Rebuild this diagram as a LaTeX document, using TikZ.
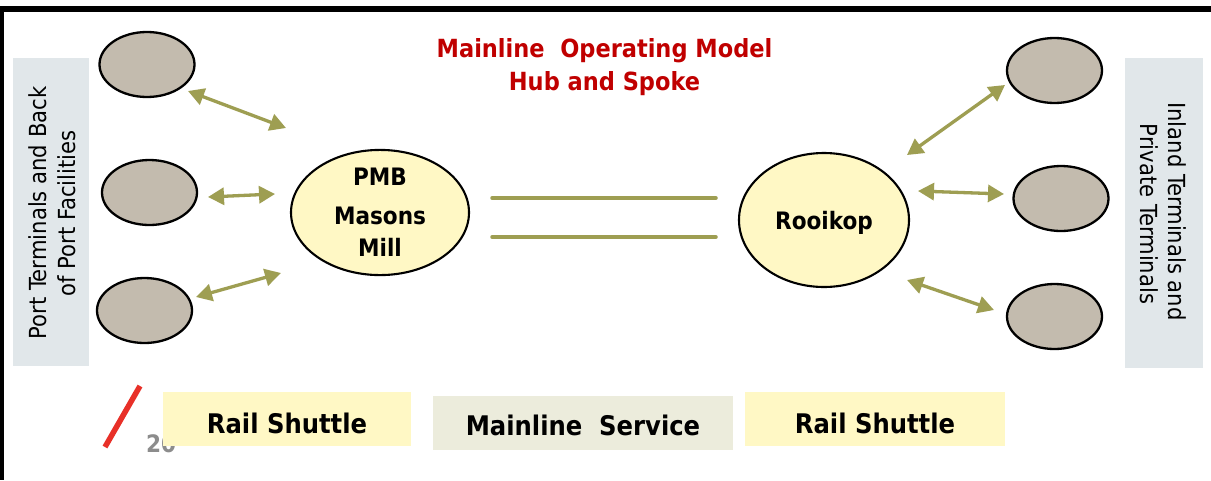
\documentclass[tikz,border=0pt]{standalone}
\usepackage{fontspec}
\setmainfont{DejaVu Sans}
\newfontfamily\condfont{DejaVu Sans Condensed}
\usetikzlibrary{shapes.geometric,arrows.meta}

\definecolor{spokeol}{RGB}{158,158,82}
\definecolor{termgray}{RGB}{195,187,174}
\definecolor{hubyellow}{RGB}{255,248,197}
\definecolor{sideblue}{RGB}{225,231,234}
\definecolor{servgray}{RGB}{236,236,220}
\definecolor{titlered}{RGB}{192,0,0}
\definecolor{slashred}{RGB}{232,48,40}
\definecolor{pagegray}{RGB}{140,140,140}

\begin{document}
\begin{tikzpicture}[x=1pt,y=-1pt,
  sidebox/.style={rectangle, fill=sideblue, inner sep=0pt},
  sidetext/.style={font=\condfont\fontsize{23.5}{28}\selectfont, inner sep=0pt, anchor=base},
  terminal/.style={ellipse, draw=black, line width=2.3pt, fill=termgray,
    minimum width=95pt, minimum height=65pt, inner sep=0pt},
  hub/.style={ellipse, draw=black, line width=2.1pt, fill=hubyellow, inner sep=0pt,
    align=center, font=\condfont\bfseries\fontsize{24}{32}\selectfont},
  spoke/.style={draw=spokeol, line width=3.3pt,
    {Triangle[length=16pt,width=17pt]}-{Triangle[length=16pt,width=17pt]}},
  railline/.style={draw=spokeol, line width=3.5pt, line cap=round},
  band/.style={rectangle, inner sep=0pt, text depth=0pt,
    font=\condfont\bfseries\fontsize{27}{32}\selectfont}]

\useasboundingbox (0,0) rectangle (1211,480);
\fill[white] (0,0) rectangle (1211,480);

% slide frame
\fill[black] (0,6) rectangle (1211,12);
\fill[black] (0,6) rectangle (3.5,480);

% title
\node[anchor=north, align=center, inner sep=0pt, text=titlered,
  font=\condfont\bfseries\fontsize{25}{33}\selectfont] (title) at (604.5,38)
  {Mainline\ \ Operating Model\\Hub and Spoke};

% side panels
\node[sidebox, minimum width=76pt, minimum height=308pt] (portbox) at (51,212) {};
\node[sidetext, rotate=90] (portA) at (46.5,213) {Port Terminals and Back};
\node[sidetext, rotate=90] (portB) at (75,213.5) {of Port Facilities};

\node[sidebox, minimum width=78pt, minimum height=310pt] (inlbox) at (1164,213) {};
\node[sidetext, rotate=-90] (inlA) at (1168,211.5) {Inland Terminals and};
\node[sidetext, rotate=-90] (inlB) at (1140.5,214) {Private Terminals};

% terminals
\node[terminal] (pt1) at (147,64.5) {};
\node[terminal] (pt2) at (149.5,192.5) {};
\node[terminal] (pt3) at (144.5,310.5) {};
\node[terminal] (it1) at (1054.5,70.5) {};
\node[terminal] (it2) at (1061,198.5) {};
\node[terminal] (it3) at (1054.5,316.5) {};

% hubs
\node[hub, minimum width=178pt, minimum height=125pt] (pmb) at (380,212.5)
  {PMB\\[7pt]Masons\\Mill};
\node[hub, minimum width=170pt, minimum height=134pt, text depth=0pt] (rooi) at (824,220)
  {Rooikop};

% spoke ends
\coordinate (a1s) at (188,91);    \coordinate (a1e) at (286,128);
\coordinate (a2s) at (208,197);   \coordinate (a2e) at (275,194);
\coordinate (a3s) at (196,297);   \coordinate (a3e) at (281,273);
\coordinate (b1s) at (907,155);   \coordinate (b1e) at (1005,85);
\coordinate (b2s) at (918,191);   \coordinate (b2e) at (1004,194);
\coordinate (b3s) at (907,280);   \coordinate (b3e) at (994,310);

\draw[spoke] (a1s) -- (a1e);
\draw[spoke] (a2s) -- (a2e);
\draw[spoke] (a3s) -- (a3e);
\draw[spoke] (b1s) -- (b1e);
\draw[spoke] (b2s) -- (b2e);
\draw[spoke] (b3s) -- (b3e);

% mainline track
\coordinate (t1a) at (492,198); \coordinate (t1b) at (716,198);
\coordinate (t2a) at (492,237); \coordinate (t2b) at (716,237);
\draw[railline] (t1a) -- (t1b);
\draw[railline] (t2a) -- (t2b);

% slide decoration and page number
\coordinate (slA) at (105,447); \coordinate (slB) at (140,386);
\draw[slashred, line width=5.5pt] (slA) -- (slB);
\node[anchor=base west, inner sep=0pt, text=pagegray,
  font=\condfont\bfseries\fontsize{24}{28}\selectfont] (pgno) at (146,452) {20};

% service bands
\node[band, fill=hubyellow, minimum width=248pt, minimum height=54pt, text height=28pt]
  (railL) at (287,419) {Rail Shuttle};
\node[band, fill=servgray, minimum width=300pt, minimum height=54pt, text height=24pt]
  (mainsv) at (583,423) {Mainline\ \ Service};
\node[band, fill=hubyellow, minimum width=260pt, minimum height=54pt, text height=28pt]
  (railR) at (875,419) {Rail Shuttle};

\end{tikzpicture}
\end{document}
